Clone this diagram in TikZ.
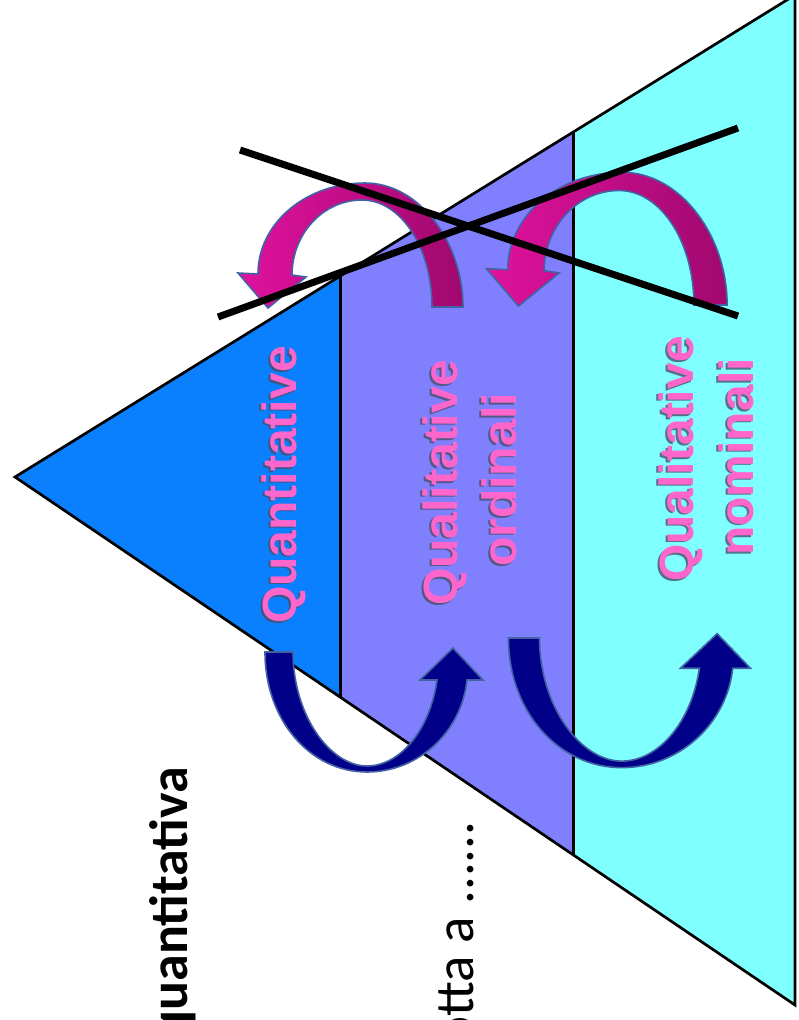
\documentclass[tikz,border=0pt]{standalone}
\usepackage{fontspec}
\newfontfamily\labfont{Liberation Sans}
\newfontfamily\carfont{Carlito}
\definecolor{bandblue}{HTML}{0A80FF}
\definecolor{bandpurple}{HTML}{8080FF}
\definecolor{bandcyan}{HTML}{80FFFF}
\definecolor{labpink}{HTML}{FF66CC}
\definecolor{shadowgray}{HTML}{4A4F6A}
\definecolor{arrowedge}{HTML}{4262A4}
\definecolor{magbright}{HTML}{E0129E}
\definecolor{magdark}{HTML}{A0086E}
\definecolor{navyfill}{HTML}{000088}
\tikzset{
  edgeline/.style={draw=black, line width=2.7pt, line join=miter},
  divline/.style={draw=black, line width=3pt},
  lbl/.style={rotate=90, anchor=base, inner sep=0pt, text=labpink,
    font=\labfont\bfseries\fontsize{48}{56}\selectfont},
  lblshadow/.style={lbl, text=shadowgray, opacity=0.8},
  note/.style={rotate=90, anchor=base east, inner sep=0pt, text=black},
  pinkarrow/.style={draw=arrowedge, line width=1.6pt, left color=magbright, right color=magdark},
  bluearrow/.style={draw=arrowedge, line width=1.6pt, fill=navyfill},
  crossline/.style={draw=black, line width=7pt}
}
\begin{document}
\begin{tikzpicture}[x=1pt,y=-1pt]
\useasboundingbox (0,0) rectangle (798,1020);
\clip (0,0) rectangle (798,1020);
\fill[white] (0,0) rectangle (798,1020);
% triangle corners
\coordinate (A) at (15,477);
\coordinate (T1) at (340,276);
\coordinate (T2) at (573,132);
\coordinate (T3) at (795,-5);
\coordinate (B1) at (340,697);
\coordinate (B2) at (573,855);
\coordinate (B3) at (795,1005);
% bands
\fill[bandblue] (A) -- (T1) -- (B1) -- cycle;
\fill[bandpurple] (T1) -- (T2) -- (B2) -- (B1) -- cycle;
\fill[bandcyan] (T2) -- (T3) -- (B3) -- (B2) -- cycle;
\draw[divline] (T1) -- (B1);
\draw[divline] (T2) -- (B2);
\draw[edgeline] (A) -- (T3) -- (B3) -- cycle;
% labels (shadow first)
\node[lblshadow] (quant-s) at (294.5,486.5) {Quantitative};
\node[lbl] (quant) at (296,485) {Quantitative};
\node[lblshadow] (qual1-s) at (455.5,484.5) {Qualitative};
\node[lbl] (qual1) at (457,483) {Qualitative};
\node[lblshadow] (ord-s) at (514.5,481.5) {ordinali};
\node[lbl] (ord) at (516,480) {ordinali};
\node[lblshadow] (qual2-s) at (691.5,460.5) {Qualitative};
\node[lbl] (qual2) at (693,459) {Qualitative};
\node[lblshadow] (nom-s) at (751.5,458.5) {nominali};
\node[lbl] (nom) at (753,457) {nominali};
% bottom-left notes
\node[note, font=\carfont\bfseries\fontsize{54}{64}\selectfont] (qvar) at (187,767) {quantitativa};
\node[note, font=\carfont\fontsize{55}{66}\selectfont] (otta) at (473,821) {otta a ......};
% pink curved arrows
\begin{scope}[shift={(447,307)}]
\path[pinkarrow] (-15,0) .. controls (-15,-59) and (-46,-107) .. (-85,-107)
  .. controls (-124,-107) and (-155,-73) .. (-155,-32) -- (-141,-30) -- (-179,1)
  -- (-209,-34) -- (-189,-33) .. controls (-189,-84) and (-141,-124) .. (-82,-124)
  .. controls (-28,-124) and (16,-65) .. (16,0) -- cycle;
\end{scope}
\begin{scope}[shift={(710,305)}, scale=1.07]
\path[pinkarrow] (-15,0) .. controls (-15,-59) and (-46,-107) .. (-85,-107)
  .. controls (-124,-107) and (-155,-73) .. (-155,-32) -- (-141,-30) -- (-179,1)
  -- (-209,-34) -- (-189,-33) .. controls (-189,-84) and (-141,-124) .. (-82,-124)
  .. controls (-28,-124) and (16,-65) .. (16,0) -- cycle;
\end{scope}
% blue curved arrows
\begin{scope}[shift={(279,652)}]
\path[bluearrow] (-14,0) .. controls (-14,68) and (31,120) .. (88,120)
  .. controls (141,120) and (183,78) .. (188,28) -- (204,28) -- (174,-4)
  -- (141,28) -- (158,28) .. controls (151,78) and (121,114) .. (88,114)
  .. controls (51,114) and (14,63) .. (14,0) -- cycle;
\end{scope}
\begin{scope}[shift={(524,638)}, xscale=1.11, yscale=1.08]
\path[bluearrow] (-14,0) .. controls (-14,68) and (31,120) .. (88,120)
  .. controls (141,120) and (183,78) .. (188,28) -- (204,28) -- (174,-4)
  -- (141,28) -- (158,28) .. controls (151,78) and (121,114) .. (88,114)
  .. controls (51,114) and (14,63) .. (14,0) -- cycle;
\end{scope}
% crossing lines
\coordinate (X1a) at (240,150);
\coordinate (X1b) at (738,316);
\coordinate (X2a) at (218,317);
\coordinate (X2b) at (738,128);
\draw[crossline] (X1a) -- (X1b);
\draw[crossline] (X2a) -- (X2b);
\end{tikzpicture}
\end{document}
